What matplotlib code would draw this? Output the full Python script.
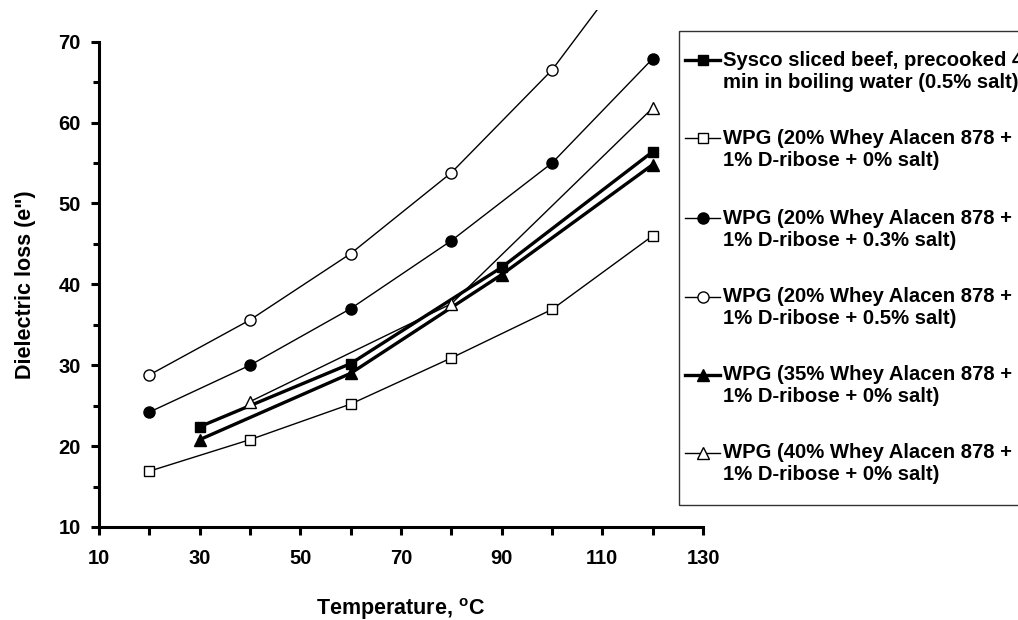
import matplotlib
matplotlib.use("Agg")
import matplotlib.pyplot as plt
from matplotlib.lines import Line2D
from matplotlib.patches import Rectangle

plt.rcParams['font.family'] = ['Liberation Sans', 'DejaVu Sans']
plt.rcParams['font.weight'] = 'bold'

# ---- data ----
sysco_x = [30, 60, 90, 120]
sysco_y = [22.4, 30.2, 42.1, 56.4]

wpg20_0_x = [20, 40, 60, 80, 100, 120]
wpg20_0_y = [16.9, 20.8, 25.2, 30.9, 36.9, 46.0]

wpg20_03_x = [20, 40, 60, 80, 100, 120]
wpg20_03_y = [24.2, 30.0, 37.0, 45.4, 55.0, 67.9]

wpg20_05_x = [20, 40, 60, 80, 100, 120]
wpg20_05_y = [28.8, 35.6, 43.8, 53.8, 66.5, 83.1]

wpg35_x = [30, 60, 90, 120]
wpg35_y = [20.8, 29.0, 41.2, 54.8]

wpg40_x = [40, 80, 120]
wpg40_y = [25.5, 37.6, 61.8]

labels = [
    ["Sysco sliced beef, precooked 4", "min in boiling water (0.5% salt)"],
    ["WPG (20% Whey Alacen 878 +", "1% D-ribose + 0% salt)"],
    ["WPG (20% Whey Alacen 878 +", "1% D-ribose + 0.3% salt)"],
    ["WPG (20% Whey Alacen 878 +", "1% D-ribose + 0.5% salt)"],
    ["WPG (35% Whey Alacen 878 +", "1% D-ribose + 0% salt)"],
    ["WPG (40% Whey Alacen 878 +", "1% D-ribose + 0% salt)"],
]

x_ticks = [10, 30, 50, 70, 90, 110, 130]
y_ticks = [10, 20, 30, 40, 50, 60, 70]

W, H = 1018, 620
fig = plt.figure(figsize=(W / 100, H / 100), dpi=100)
ax = fig.add_axes([99 / W, 1 - 527 / H, (703 - 99) / W, (527 - 41.7) / H])

styles = [
    dict(marker='s', mfc='black', mec='black', lw=2.4, ms=7.5),
    dict(marker='s', mfc='white', mec='black', lw=1.0, ms=7.5),
    dict(marker='o', mfc='black', mec='black', lw=1.0, ms=8),
    dict(marker='o', mfc='white', mec='black', lw=1.0, ms=8),
    dict(marker='^', mfc='black', mec='black', lw=2.4, ms=8),
    dict(marker='^', mfc='white', mec='black', lw=1.0, ms=8),
]
series = [(sysco_x, sysco_y), (wpg20_0_x, wpg20_0_y), (wpg20_03_x, wpg20_03_y),
          (wpg20_05_x, wpg20_05_y), (wpg35_x, wpg35_y), (wpg40_x, wpg40_y)]

clip_rect = Rectangle((99 / W, 1 - 527 / H), (703 - 99) / W, (527 - 10) / H,
                      transform=fig.transFigure, visible=False)
fig.add_artist(clip_rect)

for (xs, ys), st in zip(series, styles):
    ln, = ax.plot(xs, ys, color='black', marker=st['marker'], mfc=st['mfc'],
                  mec=st['mec'], mew=1.0, lw=st['lw'], ms=st['ms'])
    ln.set_clip_path(clip_rect)

ax.set_xlim(10, 130)
ax.set_ylim(10, 70)
ax.set_xticks(x_ticks)
ax.set_xticks(list(range(20, 130, 20)), minor=True)
ax.set_yticks(y_ticks)
ax.set_yticks(list(range(15, 70, 10)), minor=True)
for s in ['top', 'right']:
    ax.spines[s].set_visible(False)
for s in ['left', 'bottom']:
    ax.spines[s].set_linewidth(2.2)
ax.tick_params(axis='both', which='major', direction='out', length=6, width=2.2,
               labelsize=14.5)
ax.tick_params(axis='x', which='major', pad=10)
ax.tick_params(axis='y', which='major', pad=7)
ax.tick_params(axis='x', which='minor', direction='out', length=6, width=2.2)
ax.tick_params(axis='y', which='minor', direction='out', length=4.5, width=2.2)
for lab in ax.get_xticklabels() + ax.get_yticklabels():
    lab.set_fontweight('bold')
ax.set_xlabel('Temperature, $\\mathregular{^{o}}$C', fontsize=15.5, fontweight='bold', labelpad=20)
ax.set_ylabel('Dielectric loss (e")', fontsize=15.5, fontweight='bold', labelpad=16)

# ---- legend (manual, clipped at right edge like the reference) ----
box = Rectangle((679 / W, 1 - 505 / H), 0.5, (505 - 31) / H, transform=fig.transFigure,
                fill=False, edgecolor='#333333', lw=1.0)
fig.add_artist(box)
row_y = [60, 138, 218, 297, 375, 453]
for i, st in enumerate(styles):
    fy = 1 - row_y[i] / H
    fig.add_artist(Line2D([685 / W, 720 / W], [fy, fy], transform=fig.transFigure,
                          color='black', lw=st['lw']))
    fig.add_artist(Line2D([702.5 / W], [fy], transform=fig.transFigure, color='black',
                          marker=st['marker'], mfc=st['mfc'], mec=st['mec'], mew=1.0,
                          ms=st['ms'], lw=0))
    fig.text(723 / W, fy, labels[i][0], fontsize=14.6, fontweight='bold', va='center', ha='left')
    fig.text(723 / W, 1 - (row_y[i] + 22) / H, labels[i][1], fontsize=14.6,
             fontweight='bold', va='center', ha='left')

fig.savefig('out.png', dpi=100)
